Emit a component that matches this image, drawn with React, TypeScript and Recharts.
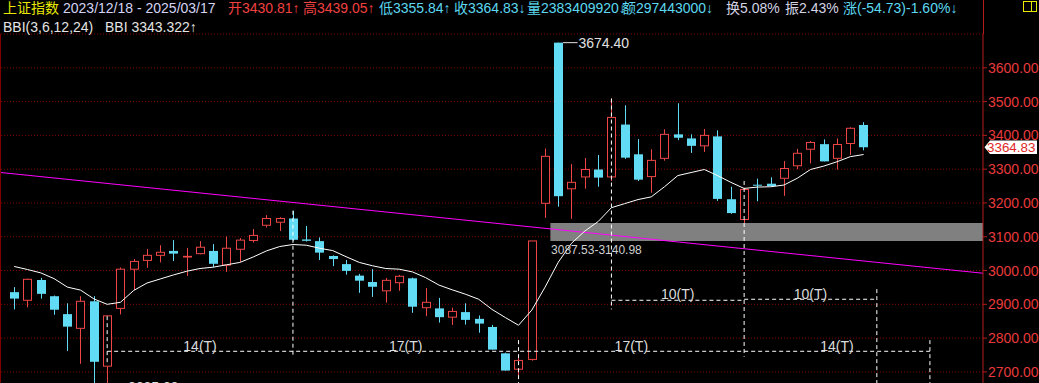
import {
  ComposedChart, Bar, Line, XAxis, YAxis, CartesianGrid, ReferenceLine, ReferenceArea, ReferenceDot,
} from "recharts";

// weekly candles, 2023/12/18 .. 2025/03/17
const opens = [
  2936, 2912, 2972, 2924, 2871, 2829, 2909, 2717, 2888, 3004, 3030, 3045, 3058, 3040, 3050, 3058,
  3016, 3063, 3089, 3134, 3143, 3154, 3092, 3087, 3043, 3019, 2985, 2966, 2940, 2964, 2977, 2890,
  2888, 2862, 2877, 2857, 2833, 2755, 2708, 2737, 3199, 3674.4, 3242, 3277, 3299, 3277, 3432, 3344,
  3278, 3332, 3403, 3391, 3369, 3397, 3211, 3151, 3254, 3257, 3273, 3310, 3359, 3374, 3332, 3376, 3430.81,
];
const highs = [
  2951, 2976, 2978, 2926, 2903, 2924, 2924, 2866, 3009, 3034, 3064, 3075, 3090, 3067, 3087, 3078,
  3101, 3096, 3123, 3164, 3158, 3177, 3132, 3098, 3045, 3031, 2990, 3004, 2978, 2987, 2979, 2948,
  2919, 2890, 2903, 2867, 2839, 2757, 2750, 3087.53, 3361, 3674.4, 3315, 3333, 3342, 3509, 3489, 3389,
  3359, 3418, 3495, 3403, 3419, 3415, 3248, 3245, 3272, 3276, 3324, 3360, 3383, 3388, 3391, 3424, 3439.05,
];
const lows = [
  2885, 2891, 2917, 2869, 2762, 2724, 2666, 2635.09, 2870, 2942, 3008, 3024, 3028, 2984, 3048, 3010,
  2996, 3026, 3083, 3127, 3117, 3088, 3086, 3031, 3013, 2988, 2934, 2922, 2905, 2940, 2875, 2865,
  2846, 2839, 2840, 2816, 2766, 2704, 2689, 2733, 3156, 3189, 3153, 3242, 3248, 3265, 3330, 3265,
  3230, 3325, 3386, 3348, 3351, 3206, 3168, 3140.98, 3205, 3249, 3221, 3300, 3317, 3323, 3299, 3342, 3355.84,
];
const closes = [
  2917, 2974, 2931, 2884, 2834, 2909, 2730, 2865.9, 3004, 3027, 3045, 3054, 3050, 3042, 3069, 3020,
  3066, 3090, 3104, 3154, 3154, 3091, 3088, 3053, 3034, 2999, 2970, 2952, 2971, 2983, 2893, 2906,
  2862, 2879, 2854, 2843, 2766, 2704, 2734, 3087.53, 3338, 3220, 3261, 3299, 3275, 3453, 3334, 3269,
  3326, 3403, 3393, 3369, 3400, 3212, 3170, 3240, 3252, 3250, 3302, 3347, 3379, 3323, 3373, 3421, 3364.83,
];
const bbi = [
  3012, 3003, 2993, 2976, 2951, 2942, 2916, 2900, 2906, 2941, 2963, 2975, 2987, 2998, 3006, 3010,
  3017, 3024, 3040, 3058, 3071, 3077, 3075, 3066, 3059, 3041, 3024, 3014, 3006, 3004, 2996, 2979,
  2957, 2943, 2930, 2915, 2885, 2861, 2838, 2883, 2951, 3025, 3081, 3117, 3145, 3186, 3198, 3210,
  3218, 3248, 3281, 3290, 3299, 3281, 3261, 3243, 3247, 3248, 3253, 3273, 3299, 3309, 3322, 3337, 3343.322,
];

const yTicks = [2600, 2700, 2800, 2900, 3000, 3100, 3200, 3300, 3400, 3500, 3600];

// cycle markers: [week index, from, to]
const cycleVerticals: [number, number, number][] = [
  [7, 2865, 2720], [21, 3177, 2743], [38, 2794, 2600], [45, 3509, 2885],
  [55, 3265, 2745], [65, 2945, 2600], [69, 2794, 2600],
];
const cycleHorizontals: [number, number, number][] = [
  [7, 69, 2761], [45, 55, 2912], [55, 65, 2915],
];
const cycleLabels: [number, number, string][] = [
  [14, 2777, "14(T)"], [29.5, 2777, "17(T)"], [46.5, 2777, "17(T)"], [62, 2777, "14(T)"],
  [50, 2930, "10(T)"], [60, 2930, "10(T)"],
];

const header = [
  { x: 3, t: "上证指数", c: "#e8e800" },
  { x: 63, t: "2023/12/18 - 2025/03/17", c: "#d4d4f4" },
  { x: 228, t: "开3430.81↑", c: "#f04040" },
  { x: 303, t: "高3439.05↑", c: "#f04040" },
  { x: 379, t: "低3355.84↑", c: "#5cd8f0" },
  { x: 454, t: "收3364.83↓", c: "#5cd8f0" },
  { x: 527, t: "量2383409920↓", c: "#5cd8f0" },
  { x: 622, t: "额297443000↓", c: "#5cd8f0" },
  { x: 726, t: "换5.08%", c: "#d4d4e4" },
  { x: 785, t: "振2.43%", c: "#d4d4e4" },
  { x: 843, t: "涨(-54.73)-1.60%↓", c: "#5cd8f0" },
];

const RED = "#ee4646";
const CYAN = "#62dcf4";
const GRID = "#800000";
const AXIS = "#b41c1c";
const FONT = "'Liberation Sans', Arial, 'Noto Sans CJK SC', sans-serif";

const rows = opens.map((o, i) => ({
  i, o, h: highs[i], l: lows[i], c: closes[i], range: [lows[i], highs[i]], bbi: bbi[i],
}));

function Candle(p: any) {
  const { x, y, width, height, payload } = p;
  const { o, h, l, c } = payload;
  const top = Math.min(y, y + height), bot = Math.max(y, y + height);
  const k = (bot - top) / (h - l || 1);
  const py = (v: number) => top + (h - v) * k;
  const cx = Math.round(x + width / 2) + 0.5;
  const bt = py(Math.max(o, c)), bb = py(Math.min(o, c));
  if (c >= o) {
    return (
      <g>
        <line x1={cx} x2={cx} y1={top} y2={bt} stroke={RED} />
        <line x1={cx} x2={cx} y1={bb} y2={bot} stroke={RED} />
        <rect x={cx - 4} y={bt} width={8} height={Math.max(bb - bt, 0.5)} fill="#000" stroke={RED} />
      </g>
    );
  }
  return (
    <g>
      <line x1={cx} x2={cx} y1={top} y2={bot} stroke={CYAN} />
      <rect x={cx - 4.5} y={bt} width={9} height={Math.max(bb - bt, 1)} fill={CYAN} />
    </g>
  );
}

// plot: y 34 .. 405.7 for 3700 .. 2600
const priceY = (v: number) => 34 + (3700 - v) * (371.7 / 1100);

export default function App() {
  const last = closes[closes.length - 1];
  const ty = priceY(last);
  return (
    <div style={{ position: "fixed", left: 0, top: 0, width: 1039, height: 383, overflow: "hidden", background: "#000", fontFamily: FONT }}>
      <ComposedChart width={1039} height={420} data={rows} margin={{ top: 34, right: 0, bottom: 14.3, left: 1 }}>
        <CartesianGrid vertical={false} stroke={GRID} strokeDasharray="1 2" />
        <XAxis dataKey="i" type="number" domain={[-1, 73]} hide allowDataOverflow />
        <YAxis orientation="right" domain={[2600, 3700]} ticks={yTicks} interval={0} width={56}
          axisLine={{ stroke: AXIS }} tickLine={{ stroke: AXIS }} tickSize={4} tickMargin={1}
          tick={{ fill: "#e83a3a", fontSize: 14, fontFamily: FONT }}
          tickFormatter={(v: number) => v.toFixed(2)} />
        <ReferenceArea x1={40.4} x2={73} y1={3087.53} y2={3140.98} fill="#808080" fillOpacity={1} stroke="none" ifOverflow="visible" />
        <ReferenceLine segment={[{ x: -1, y: 3290 }, { x: 73, y: 2992 }]} stroke="#ff00ff" strokeWidth={1} ifOverflow="visible" />
        {cycleHorizontals.map(([a, b, v], k) => (
          <ReferenceLine key={`h${k}`} segment={[{ x: a, y: v }, { x: b, y: v }]} stroke="#fff" strokeDasharray="4 3" ifOverflow="visible" />
        ))}
        <Bar dataKey="range" barSize={9} isAnimationActive={false} shape={(p: any) => <Candle {...p} />} />
        {cycleVerticals.map(([i, a, b], k) => (
          <ReferenceLine key={`v${k}`} segment={[{ x: i, y: a }, { x: i, y: b }]} stroke="#fff" strokeDasharray="4 3" ifOverflow="visible" />
        ))}
        <Line dataKey="bbi" stroke="#ffffff" strokeWidth={1} dot={false} isAnimationActive={false} type="linear" />
        {cycleLabels.map(([i, v, t], k) => (
          <ReferenceDot key={`l${k}`} x={i} y={v} r={0} fill="none" stroke="none" ifOverflow="visible"
            label={{ value: t, position: "center", fill: "#dcdcdc", fontSize: 14, fontFamily: FONT }} />
        ))}
        <ReferenceLine segment={[{ x: 41.35, y: 3674.4 }, { x: 42.45, y: 3674.4 }]} stroke="#e0e0e0" ifOverflow="visible" />
        <ReferenceDot x={42.52} y={3674.4} r={0} fill="none" stroke="none" ifOverflow="visible"
          label={{ value: "3674.40", position: "right", offset: 0, fill: "#e0e0e0", fontSize: 14, fontFamily: FONT }} />
        <ReferenceDot x={40.45} y={3060.6} r={0} fill="none" stroke="none" ifOverflow="visible"
          label={{ value: "3087.53-3140.98", position: "right", offset: 0, fill: "#d0d0d0", fontSize: 12, fontFamily: FONT }} />
        <ReferenceDot x={8.57} y={2655} r={0} fill="none" stroke="none" ifOverflow="visible"
          label={{ value: "2635.09", position: "right", offset: 0, fill: "#e0e0e0", fontSize: 14, fontFamily: FONT }} />
      </ComposedChart>

      {header.map((h) => (
        <div key={h.x} style={{ position: "absolute", left: h.x, top: 0, fontSize: 14, lineHeight: "16px", color: h.c, whiteSpace: "nowrap" }}>{h.t}</div>
      ))}
      <div style={{ position: "absolute", left: 3, top: 19, fontSize: 14, lineHeight: "16px", color: "#e4e4e4", whiteSpace: "nowrap" }}>BBI(3,6,12,24)</div>
      <div style={{ position: "absolute", left: 105, top: 19, fontSize: 14, lineHeight: "16px", color: "#e4e4e4", whiteSpace: "nowrap" }}>BBI 3343.322↑</div>

      <div style={{ position: "absolute", left: 982.5, top: 0, width: 1, height: 34, background: AXIS }} />
      <div style={{ position: "absolute", left: 0, top: 34, width: 1, height: 349, background: GRID }} />
      <div style={{ position: "absolute", left: 1023, top: 1, width: 12, height: 9, border: "1px solid #e8e800" }} />
      <div style={{ position: "absolute", left: 1031, top: 1, width: 1, height: 11, background: "#e8e800" }} />

      <svg width={1039} height={383} style={{ position: "absolute", left: 0, top: 0, pointerEvents: "none" }}>
        <polygon points={`984.5,${ty} 990,${ty - 6.7} 1037,${ty - 6.7} 1037,${ty + 6.7} 990,${ty + 6.7}`} fill="#ffffff" />
        <text x={987} y={ty} dominantBaseline="central" fill="#e02828" fontSize={13.4} fontFamily={FONT}>{last.toFixed(2)}</text>
      </svg>
    </div>
  );
}
